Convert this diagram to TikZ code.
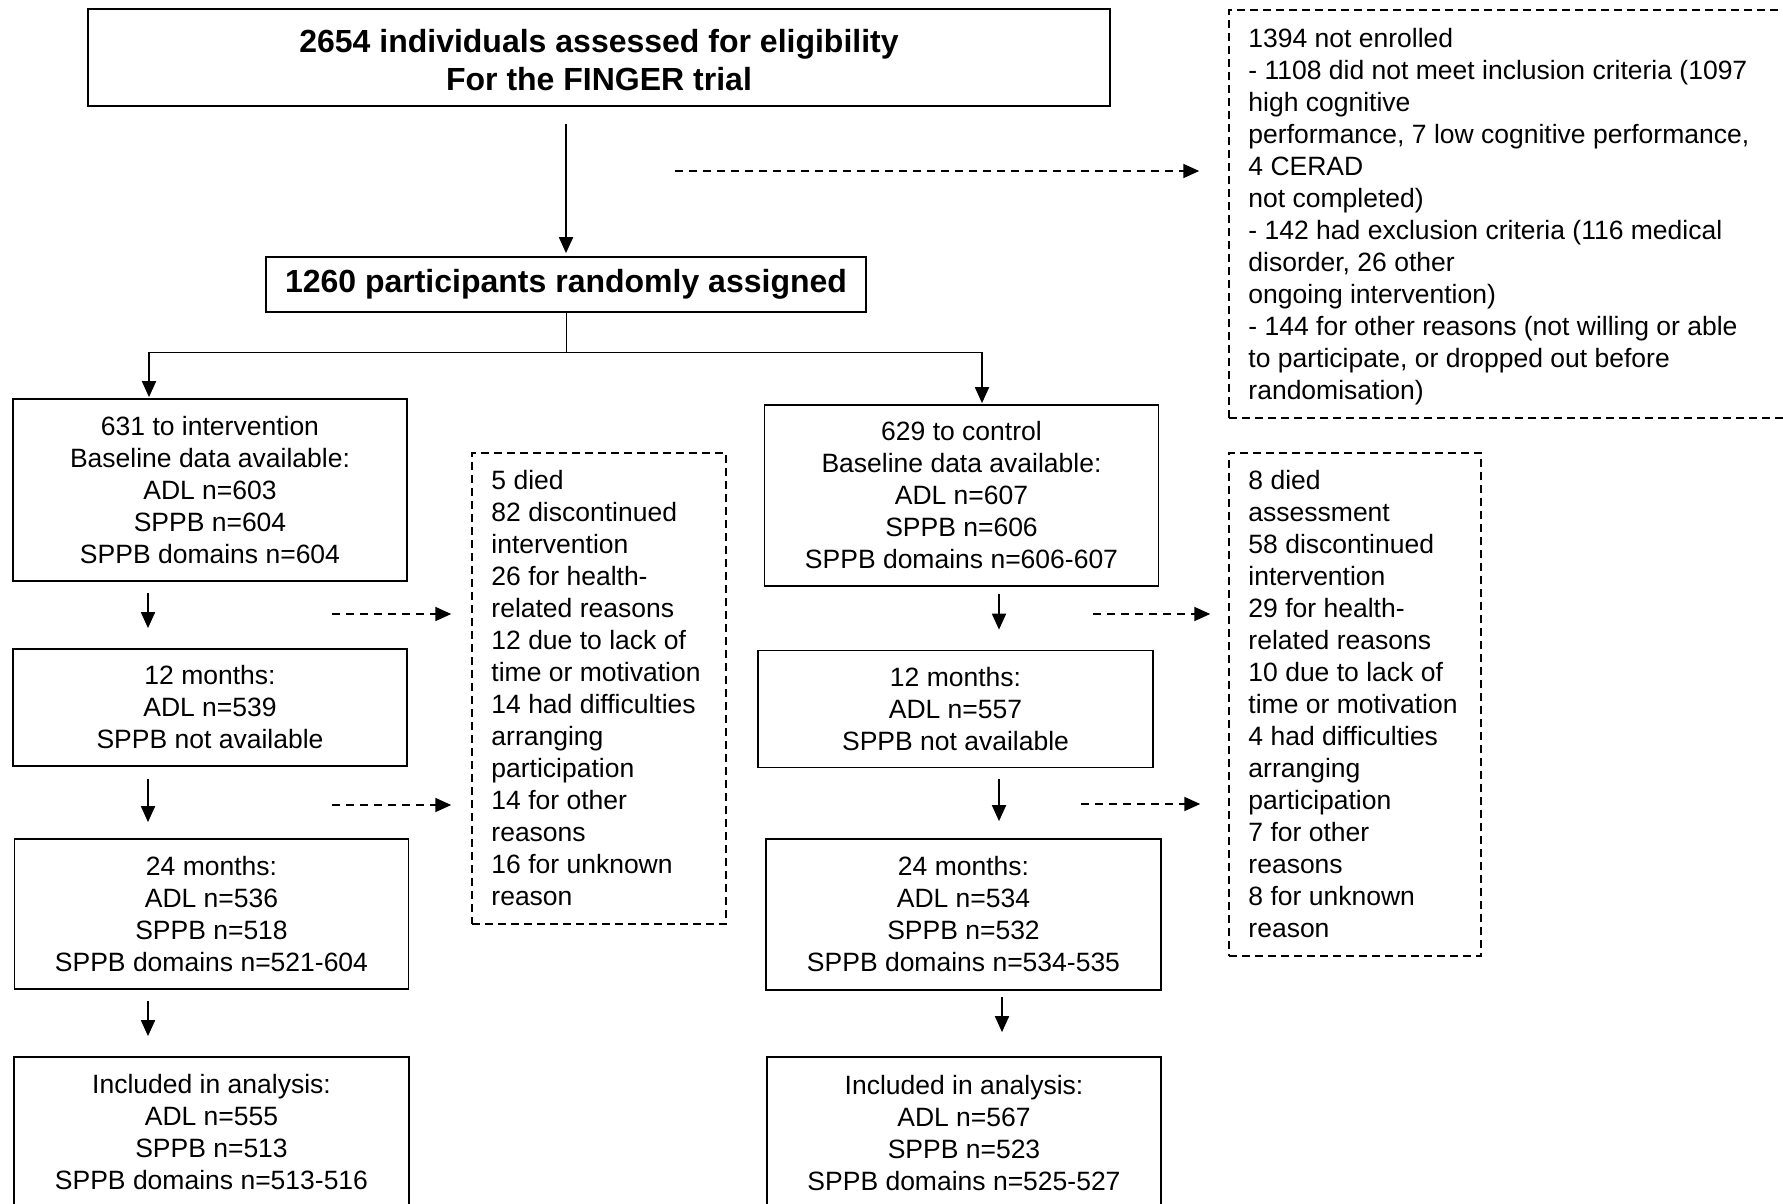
\documentclass[tikz,border=0pt]{standalone}
\usepackage{fontspec}
\setmainfont{Liberation Sans}
\usetikzlibrary{arrows.meta,calc}
\begin{document}
\begin{tikzpicture}[x=1pt,y=-1pt,
  txt/.style={font=\fontsize{26.5}{32}\selectfont},
  box/.style={txt, draw, line width=1.7pt, align=center, inner sep=0pt},
  titlebox/.style={draw, line width=1.7pt, align=center, inner sep=0pt, font=\bfseries\fontsize{32}{38}\selectfont},
  dbox/.style={draw, line width=1.5pt, dash pattern=on 8pt off 5pt, inner sep=0pt},
  dtxt/.style={txt, align=left, inner sep=0pt},
  arr/.style={line width=1.8pt, -{Triangle[length=16pt,width=14pt]}},
  darr/.style={line width=1.9pt, dash pattern=on 8pt off 6pt, -{Triangle[length=16pt,width=14pt]}},
  thinline/.style={line width=1pt}
]
\useasboundingbox (0,0) rectangle (1783,1204);
\fill[white] (0,0) rectangle (1783,1204);
\clip (0,0) rectangle (1783,1204);

% top
\node[titlebox, minimum width=1022pt, minimum height=97pt] (top) at (599,57.5)
  {\rule{0pt}{28pt}2654 individuals assessed for eligibility\\For the FINGER trial};
\node[titlebox, minimum width=600pt, minimum height=55pt] (rand) at (566,284.5)
  {1260 participants randomly assigned};

% exclusion box
\node[dbox, minimum width=571pt, minimum height=408pt] (excl) at (1514.5,214) {};
\node[dtxt, anchor=west] (exclt) at ([xshift=20pt,yshift=-3pt]excl.west)
  {1394 not enrolled\\
   - 1108 did not meet inclusion criteria (1097\\
   high cognitive\\
   performance, 7 low cognitive performance,\\
   4 CERAD\\
   not completed)\\
   - 142 had exclusion criteria (116 medical\\
   disorder, 26 other\\
   ongoing intervention)\\
   - 144 for other reasons (not willing or able\\
   to participate, or dropped out before\\
   randomisation)};

% left column
\node[box, minimum width=394pt, minimum height=182pt] (L1) at (210,490)
  {631 to intervention\\Baseline data available:\\ADL n=603\\SPPB n=604\\SPPB domains n=604};
\node[box, minimum width=394pt, minimum height=117pt] (L2) at (210,707.5)
  {12 months:\\ADL n=539\\SPPB not available};
\node[box, minimum width=394pt, minimum height=150pt] (L3) at (211.5,914)
  {24 months:\\ADL n=536\\SPPB n=518\\SPPB domains n=521-604};
\node[box, minimum width=395pt, minimum height=151pt] (L4) at (211.5,1132.5)
  {Included in analysis:\\ADL n=555\\SPPB n=513\\SPPB domains n=513-516};

% right column
\node[box, minimum width=394pt, minimum height=181pt] (R1) at (961.5,495.5)
  {629 to control\\Baseline data available:\\ADL n=607\\SPPB n=606\\SPPB domains n=606-607};
\node[box, minimum width=395pt, minimum height=117pt] (R2) at (955.5,709)
  {12 months:\\ADL n=557\\SPPB not available};
\node[box, minimum width=395pt, minimum height=151pt] (R3) at (963.5,914.5)
  {24 months:\\ADL n=534\\SPPB n=532\\SPPB domains n=534-535};
\node[box, minimum width=394pt, minimum height=152pt] (R4) at (964,1133)
  {Included in analysis:\\ADL n=567\\SPPB n=523\\SPPB domains n=525-527};

% drop-out boxes
\node[dbox, minimum width=254pt, minimum height=471pt] (drop1) at (599,688.5) {};
\node[dtxt, anchor=west] (drop1t) at ([xshift=20pt]drop1.west)
  {5 died\\82 discontinued\\intervention\\26 for health-\\related reasons\\12 due to lack of\\time or motivation\\14 had difficulties\\arranging\\participation\\14 for other\\reasons\\16 for unknown\\reason};
\node[dbox, minimum width=252pt, minimum height=503pt] (drop2) at (1355,704.5) {};
\node[dtxt, anchor=west] (drop2t) at ([xshift=20pt]drop2.west)
  {8 died\\assessment\\58 discontinued\\intervention\\29 for health-\\related reasons\\10 due to lack of\\time or motivation\\4 had difficulties\\arranging\\participation\\7 for other\\reasons\\8 for unknown\\reason};

% coordinates
\coordinate (spL) at (149,352);
\coordinate (spR) at (982,352);
\coordinate (cl) at (148,0);
\coordinate (cr) at (999,0);
\coordinate (cr2) at (1002,0);
\coordinate (d0) at (675,171);
\coordinate (da1) at (332,614);
\coordinate (da2) at (332,805);
\coordinate (db1) at (1093,614);
\coordinate (db2) at (1081,804);

% connectors
\draw[arr, shorten <=17pt, shorten >=3pt] (rand.north |- top.south) -- (rand.north);
\draw[darr, shorten >=29pt] (d0) -- (d0 -| excl.west);
\draw[thinline] (rand.south) -- (rand.south |- spL);
\draw[thinline] (spL) -- (spR);
\draw[arr, shorten >=1pt] (spL) -- (spL |- L1.north);
\draw[arr, shorten >=1pt] (spR) -- (spR |- R1.north);

\draw[arr, shorten <=11pt, shorten >=20pt] (cl |- L1.south) -- (cl |- L2.north);
\draw[arr, shorten <=12pt, shorten >=16pt] (cl |- L2.south) -- (cl |- L3.north);
\draw[arr, shorten <=11pt, shorten >=20pt] (cl |- L3.south) -- (cl |- L4.north);

\draw[arr, shorten <=7pt, shorten >=20pt] (cr |- R1.south) -- (cr |- R2.north);
\draw[arr, shorten <=11pt, shorten >=17pt] (cr |- R2.south) -- (cr |- R3.north);
\draw[arr, shorten <=6pt, shorten >=24pt] (cr2 |- R3.south) -- (cr2 |- R4.north);

\draw[darr, shorten >=20pt] (da1) -- (da1 -| drop1.west);
\draw[darr, shorten >=20pt] (da2) -- (da2 -| drop1.west);
\draw[darr, shorten >=18pt] (db1) -- (db1 -| drop2.west);
\draw[darr, shorten >=28pt] (db2) -- (db2 -| drop2.west);
\end{tikzpicture}
\end{document}
